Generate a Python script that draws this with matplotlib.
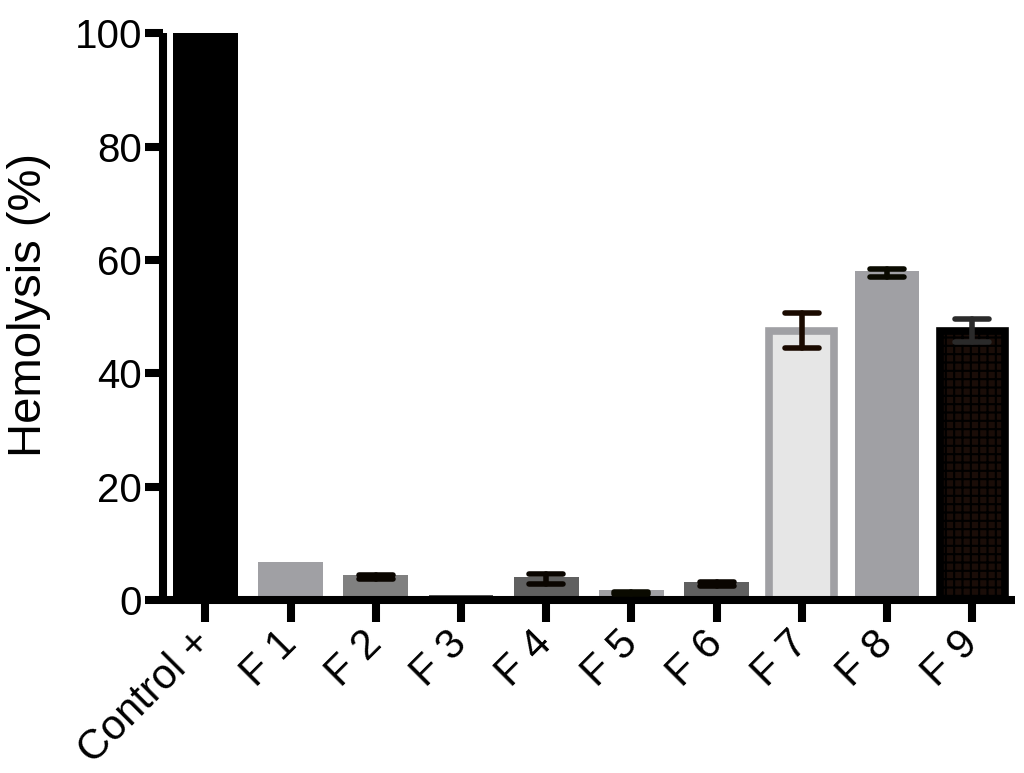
import matplotlib
matplotlib.use("Agg")
import matplotlib.pyplot as plt
from matplotlib.markers import MarkerStyle
import numpy as np

categories = ["Control +", "F 1", "F 2", "F 3", "F 4", "F 5", "F 6", "F 7", "F 8", "F 9"]
values = [100.0, 6.7, 4.3, 0.9, 4.0, 1.8, 3.2, 47.5, 58.0, 47.5]
errors = [0.0, 0.0, 0.4, 0.0, 0.9, 0.2, 0.3, 3.1, 0.7, 2.0]
err_centers = [100.0, 6.7, 4.0, 0.9, 3.7, 1.2, 2.8, 47.5, 57.7, 47.5]
face_colors = ["#000000", "#a0a0a4", "#808080", "#555555", "#606060", "#a0a0a4",
               "#606060", "#e6e6e6", "#a0a0a4", "#1a0d08"]
edge_colors = ["#000000", "#a0a0a4", "#808080", "#555555", "#606060", "#a0a0a4",
               "#606060", "#a0a0a4", "#a0a0a4", "#000000"]
edge_widths = [0, 0, 0, 0, 0, 0, 0, 5.5, 0, 5.5]
err_colors = ["#000000", "#000000", "#0a0500", "#000000", "#0a0500", "#0a0a00",
              "#0a0500", "#1a0a00", "#0a0a00", "#2a2a2a"]

plt.rcParams['font.family'] = ['Liberation Sans', 'DejaVu Sans']
plt.rcParams['hatch.linewidth'] = 1.5

fig = plt.figure(figsize=(10.24, 7.73), dpi=100)
ax = fig.add_axes([0.159, 0.224, 0.832, 0.733])

x = np.arange(len(categories))
for i in range(len(categories)):
    ax.bar(x[i], values[i], width=0.76, color=face_colors[i], edgecolor=edge_colors[i],
           linewidth=edge_widths[i], hatch='++' if i == 9 else None, zorder=2)
    if errors[i] > 0:
        eb = ax.errorbar(x[i], err_centers[i], yerr=errors[i], fmt='none', ecolor=err_colors[i],
                         elinewidth=4, capsize=12, capthick=4, zorder=3)
        for cl in eb[1]:
            cl.set_marker(MarkerStyle('_', capstyle='round'))
        for lc in eb[2]:
            lc.set_capstyle('round')

ax.set_xlim(-0.5, 9.5)
ax.set_ylim(0, 100)
ax.set_yticks([0, 20, 40, 60, 80, 100])
ax.set_xticks(x)
ax.set_xticklabels(categories, rotation=45, ha='right', va='center', rotation_mode='anchor',
                   fontsize=30)
ax.tick_params(axis='both', width=5.8, length=13, color='black')
ax.tick_params(axis='y', labelsize=29, pad=2)
ax.tick_params(axis='x', length=16, pad=11)
for s in ['top', 'right']:
    ax.spines[s].set_visible(False)
for s in ['left', 'bottom']:
    ax.spines[s].set_linewidth(5.8)
    ax.spines[s].set_capstyle('butt')
ax.set_ylabel("Hemolysis (%)", fontsize=34)
ax.yaxis.set_label_coords(-0.131, 0.52)

fig.savefig("out.png", dpi=100)
